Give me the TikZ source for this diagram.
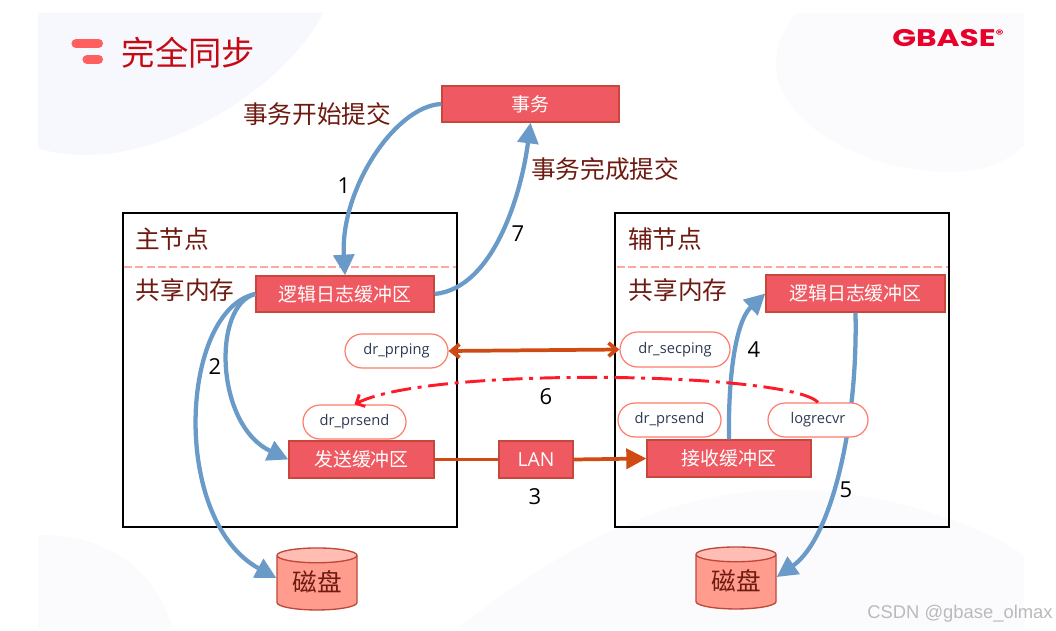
\documentclass[tikz,border=0pt]{standalone}
\usepackage{fontspec}
\usetikzlibrary{shapes.geometric,shapes.misc,arrows.meta}
\setmainfont{Open Sans}
\newfontfamily\cjk{Noto Sans CJK SC}
\newfontfamily\logofont[FakeStretch=1.3]{Poppins}
\newfontfamily\wmfont{Liberation Sans}
\definecolor{boxred}{HTML}{EF5A62}
\definecolor{boxedge}{HTML}{C8463A}
\definecolor{darktext}{HTML}{6E1A10}
\definecolor{flowblue}{HTML}{6A9BC8}
\definecolor{lanorange}{HTML}{D04A14}
\definecolor{pillline}{HTML}{FF7A6A}
\definecolor{pilltext}{HTML}{2E3A52}
\definecolor{dashpink}{HTML}{FFA8A0}
\definecolor{diskbody}{HTML}{FF9C8E}
\definecolor{disktop}{HTML}{FFBDB4}
\definecolor{diskline}{HTML}{C0483A}
\definecolor{bgone}{HTML}{F7F7FE}
\definecolor{bgtwo}{HTML}{FBFBFE}
\definecolor{barred}{HTML}{FF5F5F}
\definecolor{titlered}{HTML}{C40A12}
\definecolor{logored}{HTML}{E8002A}
\definecolor{dashred}{HTML}{FF1A2A}
\tikzset{
  x=0.75pt,y=-0.75pt,
  redbox/.style={draw=boxedge,line width=1pt,fill=boxred,text=white,inner sep=0pt,font=\cjk\fontsize{14.2}{16}\selectfont,anchor=center},
  pill/.style={rounded rectangle,draw=pillline,line width=0.9pt,fill=white,inner sep=0pt,text=pilltext,font=\fontsize{11}{13}\selectfont,anchor=center},
  panel/.style={draw=black,line width=1.1pt,inner sep=0pt,anchor=center},
  brown/.style={text=darktext,inner sep=0pt,font=\cjk\fontsize{18.5}{20}\selectfont,anchor=center},
  num/.style={text=black,inner sep=0pt,font=\fontsize{16.5}{18}\selectfont,anchor=center},
  flow/.style={draw=flowblue,line width=3.2pt,-{Triangle[length=15.5pt,width=15.5pt]}},
  lanline/.style={draw=lanorange,line width=2.8pt},
  disk/.style={cylinder,shape border rotate=90,aspect=0.3,draw=diskline,line width=1pt,cylinder uses custom fill,cylinder body fill=diskbody,cylinder end fill=disktop,inner sep=0pt,text=darktext,font=\cjk\fontsize{18.5}{20}\selectfont,anchor=center},
  sizedbox/.style 2 args={minimum width=#1*0.75pt,minimum height=#2*0.75pt}
}
\begin{document}
\begin{tikzpicture}
\useasboundingbox (0,0) rectangle (1056,631);
\fill[white] (0,0) rectangle (1056,631);
% pale background shapes
\fill[bgone] (38,13) -- (323,13) .. controls (290,80) and (180,155) .. (85,155) .. controls (65,155) and (50,152) .. (38,148) -- cycle;
\fill[bgtwo] (797,13) .. controls (782,30) and (776,45) .. (776,65) .. controls (776,120) and (860,172) .. (950,172) .. controls (985,172) and (1010,160) .. (1024,145) -- (1024,13) -- cycle;
\fill[bgtwo] (38,535) .. controls (110,535) and (155,570) .. (172,628) -- (38,628) -- cycle;
\fill[bgtwo] (457,628) .. controls (560,550) and (660,490) .. (790,490) .. controls (880,490) and (970,520) .. (1024,555) -- (1024,628) -- cycle;
% header
\draw[barred,line width=6.8pt,line cap=round] (76,43.5) -- (98.5,43.5);
\draw[barred,line width=6.8pt,line cap=round] (87,59.5) -- (98.5,59.5);
\node[text=titlered,inner sep=0pt,font=\cjk\fontsize{25}{27}\selectfont,anchor=center] (title) at (188.5,53) {完全同步};
\node[text=logored,inner sep=0pt,font=\logofont\bfseries\fontsize{18}{20}\selectfont,anchor=center] (logo) at (948,38) {GBASE\raisebox{0.6ex}{\fontsize{9}{10}\selectfont®}};
% panels
\node[panel,sizedbox={334}{314}] (master) at (290,370) {};
\node[panel,sizedbox={334}{314}] (second) at (782,370) {};
\coordinate (mdl) at (124,267); \coordinate (mdr) at (456,267);
\coordinate (sdl) at (617,267); \coordinate (sdr) at (948,267);
\draw[dashpink,line width=0.9pt,dash pattern=on 6pt off 2.5pt] (mdl) -- (mdr);
\draw[dashpink,line width=0.9pt,dash pattern=on 6pt off 2.5pt] (sdl) -- (sdr);
\node[brown] (mlabel) at (172,239) {主节点};
\node[brown] (slabel) at (665,239) {辅节点};
\node[brown] (mmem) at (185,290) {共享内存};
\node[brown] (smem) at (678,290) {共享内存};
\node[brown] (startlbl) at (317,114) {事务开始提交};
\node[brown] (donelbl) at (605,169) {事务完成提交};
% boxes
\node[redbox,sizedbox={177}{36}] (tx) at (530.5,104) {事务};
\node[redbox,sizedbox={178}{36}] (mlog) at (345,294) {逻辑日志缓冲区};
\node[redbox,sizedbox={179}{37}] (slog) at (855.5,293.5) {逻辑日志缓冲区};
\node[redbox,sizedbox={145}{37}] (send) at (361.5,459.5) {发送缓冲区};
\node[redbox,sizedbox={74}{37},font=\fontsize{14.5}{16}\selectfont] (lan) at (536,459.5) {LAN};
\node[redbox,sizedbox={164}{37}] (recv) at (729,458.5) {接收缓冲区};
\node[disk,minimum height=46.5pt,minimum width=60pt] (diskl) at (317,583) {\raisebox{-1pt}[.8em][.2em]{磁盘}};
\node[disk,minimum height=46.5pt,minimum width=60pt] (diskr) at (736,582) {\raisebox{-1pt}[.8em][.2em]{磁盘}};
% connectors under pills
\draw[flow] (recv.north) .. controls (728,380) and (735,322) .. (slog.west);
\draw[flow] (slog.south) .. controls (858,430) and (830,540) .. (diskr.7);
% pills
\node[pill,sizedbox={103}{34}] (prping) at (396.5,351) {dr\_prping};
\node[pill,sizedbox={103}{34}] (prsendl) at (354.5,422) {dr\_prsend};
\node[pill,sizedbox={110}{35}] (secping) at (675,349.5) {dr\_secping};
\node[pill,sizedbox={103}{34}] (prsendr) at (669.5,420) {dr\_prsend};
\node[pill,sizedbox={100}{34}] (logrecvr) at (818,420) {logrecvr};
% blue flows
\draw[flow] (tx.west) .. controls (395,106) and (340,190) .. (mlog.north);
\draw[flow] (mlog.east) .. controls (495,288) and (522,190) .. (tx.south);
\draw[flow] (mlog.west) .. controls (212,305) and (215,425) .. (send.west);
\draw[flow] (mlog.west) .. controls (180,310) and (170,520) .. (diskl.173);
% orange
\draw[lanline,{Straight Barb[length=6pt,width=10pt]}-{Straight Barb[length=6pt,width=10pt]}] (prping.east) -- (secping.west);
\draw[lanline] (send.east) -- (lan.west);
\draw[lanline,-{Triangle[length=15pt,width=15pt]}] (lan.east) -- (recv.west);
% dash-dot
\draw[dashred,line width=2.2pt,dash pattern=on 15pt off 5pt on 3pt off 5pt,-{Straight Barb[length=5pt,width=10pt]}] (logrecvr.north) .. controls (790,372) and (430,366) .. (prsendl.north);
% numbers
\node[num] (n1) at (344,186) {1};
\node[num] (n2) at (215,367) {2};
\node[num] (n3) at (535,497) {3};
\node[num] (n4) at (754,350) {4};
\node[num] (n5) at (846,490) {5};
\node[num] (n6) at (546,397) {6};
\node[num] (n7) at (518,234) {7};
% watermark
\node[text=black!27,inner sep=0pt,font=\wmfont\fontsize{13.8}{16}\selectfont,anchor=center] (wm) at (960,614) {CSDN @gbase\_olmax};
\end{tikzpicture}
\end{document}
